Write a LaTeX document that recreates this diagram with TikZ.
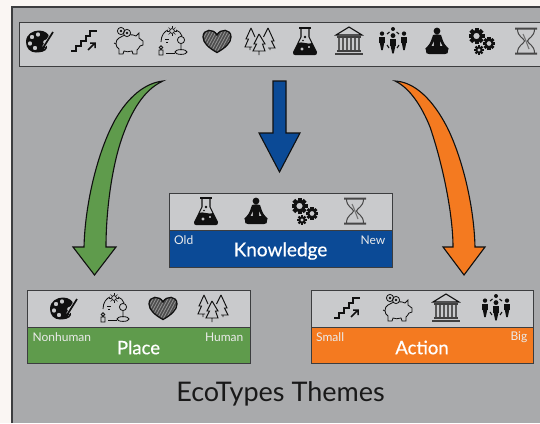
\documentclass[tikz,border=0pt]{standalone}
\usepackage{fontspec}
\setmainfont{Lato}
\newfontfamily\themefont[FakeBold=0.5]{Lato}
\usetikzlibrary{calc}
\definecolor{margincol}{HTML}{FAF6F3}
\definecolor{panelcol}{HTML}{A9AAAC}
\definecolor{stripcol}{HTML}{C9CACC}
\definecolor{edgecol}{HTML}{3C3D3F}
\definecolor{bluecol}{HTML}{0B4A96}
\definecolor{greencol}{HTML}{5F9B4C}
\definecolor{orangecol}{HTML}{F47A20}
\definecolor{inkcol}{HTML}{101010}
\newcommand\gearat[3]{%
  \foreach \a in {0,45,...,315} {\fill[inkcol,shift={(#1,#2)},rotate=\a] (-0.25*#3,0.62*#3) rectangle (0.25*#3,#3);}
  \fill[inkcol,even odd rule] (#1,#2) circle[radius=0.74*#3] (#1,#2) circle[radius=0.4*#3];
}
\tikzset{
  lineicon/.style={draw=inkcol,line width=0.8pt,fill=none},
  panelbox/.style={draw=edgecol,line width=0.9pt,fill=stripcol},
  bandbox/.style={draw=edgecol,line width=0.9pt},
  blockarrow/.style={draw=inkcol,line width=1.1pt,line join=miter},
  cornerlabel/.style={text=white!92!black,font=\fontsize{12}{13}\selectfont,inner sep=0pt},
  themelabel/.style={text=white,font=\themefont\fontsize{18.5}{22}\selectfont,inner sep=0pt},
  pics/iconpalette/.style={code={
    \fill[inkcol,even odd rule] (-13,1) .. controls (-13,-7) and (-6,-10.5) .. (0,-10.5)
      .. controls (6,-10.5) and (10,-7) .. (10,-4) .. controls (10,-1) and (4,-2) .. (4,1)
      .. controls (4,4) and (9,4) .. (8,7) .. controls (7,11) and (0,11.5) .. (-3,11.5)
      .. controls (-9,11.5) and (-13,7) .. (-13,1)
      (-7,-4) circle[radius=2.3] (-1,-6.5) circle[radius=2.3] (-9,2.5) circle[radius=2.3] (-4,7) circle[radius=2.3];
    \draw[stripcol,line width=3pt] (14,-9) -- (4,7);
    \draw[inkcol,line width=1.7pt] (14,-9) -- (4,7);
    \fill[inkcol] (3,10) -- (1.5,5) -- (6.5,6) -- cycle;
  }},
  pics/iconstairs/.style={code={
    \draw[inkcol,line width=1.9pt] (-13,10) -- (-8,10) -- (-8,5) -- (-3,5) -- (-3,0) -- (2,0) -- (2,-5) -- (6,-5) -- (6,-10) -- (13,-10);
    \draw[inkcol,line width=1.5pt] (4,9) -- (11,2) (6,2) -- (11,2) -- (11,7);
  }},
  pics/iconpiggy/.style={code={
    \draw[lineicon] (-9,-3) .. controls (-4,-7) and (5,-7) .. (8,-5) -- (11,-8) -- (11,-3)
      .. controls (13,-2) and (14,0) .. (15,0) -- (15,4) -- (12,5)
      .. controls (11,7) and (10,8) .. (9,9) -- (9,13) -- (5,13) -- (4,10)
      .. controls (1,11) and (-2,11) .. (-4,10) -- (-5,13) -- (-9,13) -- (-9,8)
      .. controls (-13,6) and (-13,-1) .. (-9,-3) -- cycle;
    \draw[lineicon,fill=stripcol] (-7,-10) circle[radius=3.6] (-1,-8) circle[radius=3.6];
    \fill[inkcol] (-7,-10) circle[radius=1.4] (-1,-8) circle[radius=1.4];
    \draw[lineicon] (-14,2) -- (-12,3);
  }},
  pics/iconeco/.style={code={
    \draw[lineicon] (-11,1) .. controls (-11,-6) and (-7,-10) .. (-4,-11);
    \draw[lineicon] (4,-11) .. controls (7,-10) and (9,-8) .. (10,-5);
    \draw[lineicon] (-6,12) -- (3,12);
    \draw[lineicon] (0,-10) circle[radius=2.4];
    \foreach \a in {0,45,...,315} {\draw[inkcol,line width=0.6pt] ($(0,-10)+(\a:3.2)$) -- ($(0,-10)+(\a:4.8)$);}
    \draw[lineicon] (9,-1) circle[radius=3.6] (9,2.6) -- (9,9);
    \draw[lineicon] (9,11) ellipse[x radius=6,y radius=2.4];
    \draw[lineicon] (-11,6.5) circle[radius=1.7] (-13,9) rectangle (-9,14);
    \draw[lineicon] (-7,-2) -- (-3,-2) (-6,1) -- (-4,1);
  }},
  pics/iconheart/.style={code={
    \begin{scope}
      \clip (0,11.5) .. controls (-8,7) and (-14,2) .. (-14,-4) .. controls (-14,-12.5) and (-3,-12.5) .. (0,-6)
        .. controls (3,-12.5) and (14,-12.5) .. (14,-4) .. controls (14,2) and (8,7) .. (0,11.5) -- cycle;
      \fill[black!70] (-15,-13) rectangle (15,13);
      \foreach \k in {-28,-25,...,14} {\draw[black!42,line width=0.8pt] (\k,13) -- (\k+14,-13);}
    \end{scope}
    \draw[inkcol,line width=1.3pt] (0,11.5) .. controls (-8,7) and (-14,2) .. (-14,-4) .. controls (-14,-12.5) and (-3,-12.5) .. (0,-6)
        .. controls (3,-12.5) and (14,-12.5) .. (14,-4) .. controls (14,2) and (8,7) .. (0,11.5) -- cycle;
  }},
  pics/icontrees/.style={code={
    \draw[lineicon,line width=0.95pt,line join=miter]
      (-9,-13) -- (-14,-2) -- (-11.5,-2) -- (-15,6) -- (-8,6) (-9,-13) -- (-5,-4)
      (8,-13) -- (3.5,-4) (8,-13) -- (14,0) -- (11.5,0) -- (15,7) -- (8,7)
      (-1,-7) -- (-6,3) -- (-3.5,3) -- (-7,10) -- (5,10) -- (2.5,3) -- (5,3) -- (-1,-7)
      (-1,10) -- (-1,14) (-10,6) -- (-10,9) (10,7) -- (10,9);
  }},
  pics/iconflask/.style={code={
    \fill[inkcol] (-6,-14) rectangle (6,-11.6);
    \draw[inkcol,line width=1.1pt] (-4,-12) -- (-4,-4) -- (-7,2) (4,-12) -- (4,-4) -- (7,2);
    \fill[inkcol,even odd rule] (-7.5,2) .. controls (-3,0) and (3,4) .. (7.5,2) -- (12,11) .. controls (12.5,13) and (11,14) .. (10,14) -- (-10,14) .. controls (-11,14) and (-12.5,13) .. (-12,11) -- cycle
      (-3,8) circle[radius=1.8] (4,6) circle[radius=1.3];
    \fill[inkcol] (0,-4) circle[radius=1.4] (-2,-0.5) circle[radius=0.9];
  }},
  pics/iconbank/.style={code={
    \draw[lineicon,line width=1.1pt,line join=miter,fill=stripcol] (0,-14) -- (-13,-6) -- (13,-6) -- cycle;
    \fill[black!75] (-12,-5.5) rectangle (12,-3);
    \foreach \cx in {-10,-6,-2,2,6,10} {\fill[black!66] (\cx-1.2,-3) rectangle (\cx+1.2,9);}
    \fill[black!75] (-12,9) rectangle (12,11);
    \fill[black!75] (-14,11.5) rectangle (14,14);
  }},
  pics/iconpeople/.style={code={
    \foreach \px/\py/\sc in {-11/-4/1,11/-4/1,0/-2/1.1} {
      \fill[inkcol] (\px,\py-3.4) circle[radius=2.2*\sc];
      \fill[inkcol] (\px-2.9*\sc,\py) rectangle (\px+2.9*\sc,\py+6*\sc);
      \fill[inkcol] (\px-2.2*\sc,\py+6*\sc) -- (\px+2.2*\sc,\py+6*\sc) -- (\px+0.8,\py+13*\sc) -- (\px-0.8,\py+13*\sc) -- cycle;
    }
    \fill[inkcol] (0,-12) circle[radius=2];
    \draw[inkcol,line width=1.1pt] (-3.5,-9) -- (-6,-7) (3.5,-9) -- (6,-7) (-6,4) -- (-4,7) (6,4) -- (4,7);
  }},
  pics/iconmeditate/.style={code={
    \fill[inkcol] (0,-10) circle[radius=3.4];
    \fill[inkcol,even odd rule] (-4,-6) .. controls (-1,-7) and (1,-7) .. (4,-6)
      .. controls (5.5,-2) and (6,2) .. (10,6) .. controls (12,7) and (12,8) .. (11,9.5)
      .. controls (12,12) and (10,13) .. (8,13) -- (-8,13) .. controls (-10,13) and (-12,12) .. (-11,9.5)
      .. controls (-12,8) and (-12,7) .. (-10,6) .. controls (-6,2) and (-5.5,-2) .. (-4,-6) -- cycle
      (-3.2,0) -- (-3.2,5) -- (-5.5,5) -- cycle (3.2,0) -- (3.2,5) -- (5.5,5) -- cycle;
  }},
  pics/icongears/.style={code={
    \gearat{-5.5}{-5}{8}
    \gearat{7}{2.5}{6.2}
    \gearat{-3}{9}{4.8}
  }},
  pics/iconhourglass/.style={code={
    \fill[black!72] (-11,-13.5) rectangle (11,-11.5) (-11,11.5) rectangle (11,13.5);
    \draw[black!72,line width=1pt] (-8.5,-12) .. controls (-8.5,-4) and (-2,-3) .. (-1.5,0) .. controls (-2,3) and (-8.5,4) .. (-8.5,12)
      (8.5,-12) .. controls (8.5,-4) and (2,-3) .. (1.5,0) .. controls (2,3) and (8.5,4) .. (8.5,12);
    \draw[black!55,line width=1.1pt] (-3,-7) .. controls (-1,-3) and (1,3) .. (3,8);
  }},
}
\begin{document}
\begin{tikzpicture}[x=1pt,y=-1pt]
\useasboundingbox (0,0) rectangle (540,423);
\fill[margincol] (0,0) rectangle (540,423);
\fill[panelcol] (12,7) rectangle (540,423);
\draw[edgecol,line width=1.2pt] (12,423) -- (12,7) -- (540,7);
% top strip
\fill[stripcol] (19.5,22) rectangle (540,66);
\draw[edgecol,line width=0.9pt] (540,22) -- (19.5,22) -- (19.5,66) -- (540,66);
\foreach \ix/\iname in {39/iconpalette,84/iconstairs,128/iconpiggy,172/iconeco,217/iconheart,260/icontrees,305/iconflask,349/iconbank,393/iconpeople,437/iconmeditate,482/icongears,526/iconhourglass}
  {\pic at (\ix,41) {\iname};}
% arrows
\draw[blockarrow,fill=greencol] (163,81) .. controls (145,83) and (128,97) .. (115,120)
  .. controls (97,153) and (85,205) .. (84,247) -- (73,247) -- (94.5,275) -- (116,247) -- (106,247)
  .. controls (106,210) and (112,165) .. (123,135) .. controls (131,113) and (143,90) .. (163,81) -- cycle;
\draw[blockarrow,fill=orangecol] (395,81) .. controls (415,82) and (433,100) .. (447,127)
  .. controls (462,157) and (474,205) .. (475,247) -- (485,247) -- (464,275) -- (443,247) -- (453,247)
  .. controls (453,215) and (443,165) .. (430,127) .. controls (422,107) and (410,88) .. (395,81) -- cycle;
\draw[blockarrow,fill=bluecol] (273,81) -- (286,81) -- (286,133) -- (300,133) -- (279.5,172) -- (259,133) -- (273,133) -- cycle;
% knowledge
\draw[panelbox] (169,193) rectangle (392,230);
\draw[bandbox,fill=bluecol] (169,230) rectangle (392,267);
\foreach \ix/\iname in {206/iconflask,256/iconmeditate,305/icongears,355/iconhourglass}
  {\pic at (\ix,211) {\iname};}
\node[cornerlabel,anchor=west] (oldlab) at (174,240.5) {Old};
\node[cornerlabel,anchor=east] (newlab) at (385.5,240.5) {New};
\node[themelabel,font=\themefont\fontsize{19}{22}\selectfont] (knowledgelab) at (280.5,251) {Knowledge};
% place
\draw[panelbox] (27,290) rectangle (250,327);
\draw[bandbox,fill=greencol] (27,327) rectangle (250,363);
\foreach \ix/\iname in {63/iconpalette,114/iconeco,163/iconheart,213/icontrees}
  {\pic at (\ix,308) {\iname};}
\node[cornerlabel,anchor=west] (nonhumanlab) at (32.5,337.5) {Nonhuman};
\node[cornerlabel,anchor=east] (humanlab) at (243.5,337.5) {Human};
\node[themelabel] (placelab) at (138.5,347.5) {Place};
% action
\draw[panelbox] (311,290) rectangle (533,327);
\draw[bandbox,fill=orangecol] (311,327) rectangle (533,363);
\foreach \ix/\iname in {347/iconstairs,397/iconpiggy,446/iconbank,496/iconpeople}
  {\pic at (\ix,308) {\iname};}
\node[cornerlabel,anchor=west] (smalllab) at (316,337.5) {Small};
\node[cornerlabel,anchor=east] (biglab) at (527.5,337.5) {Big};
\node[themelabel] (actionlab) at (422,347.5) {Action};
% title
\node[text=black!90,font=\fontsize{27}{30}\selectfont,inner sep=0pt] (titlelab) at (280.5,394) {EcoTypes Themes};
\end{tikzpicture}
\end{document}
